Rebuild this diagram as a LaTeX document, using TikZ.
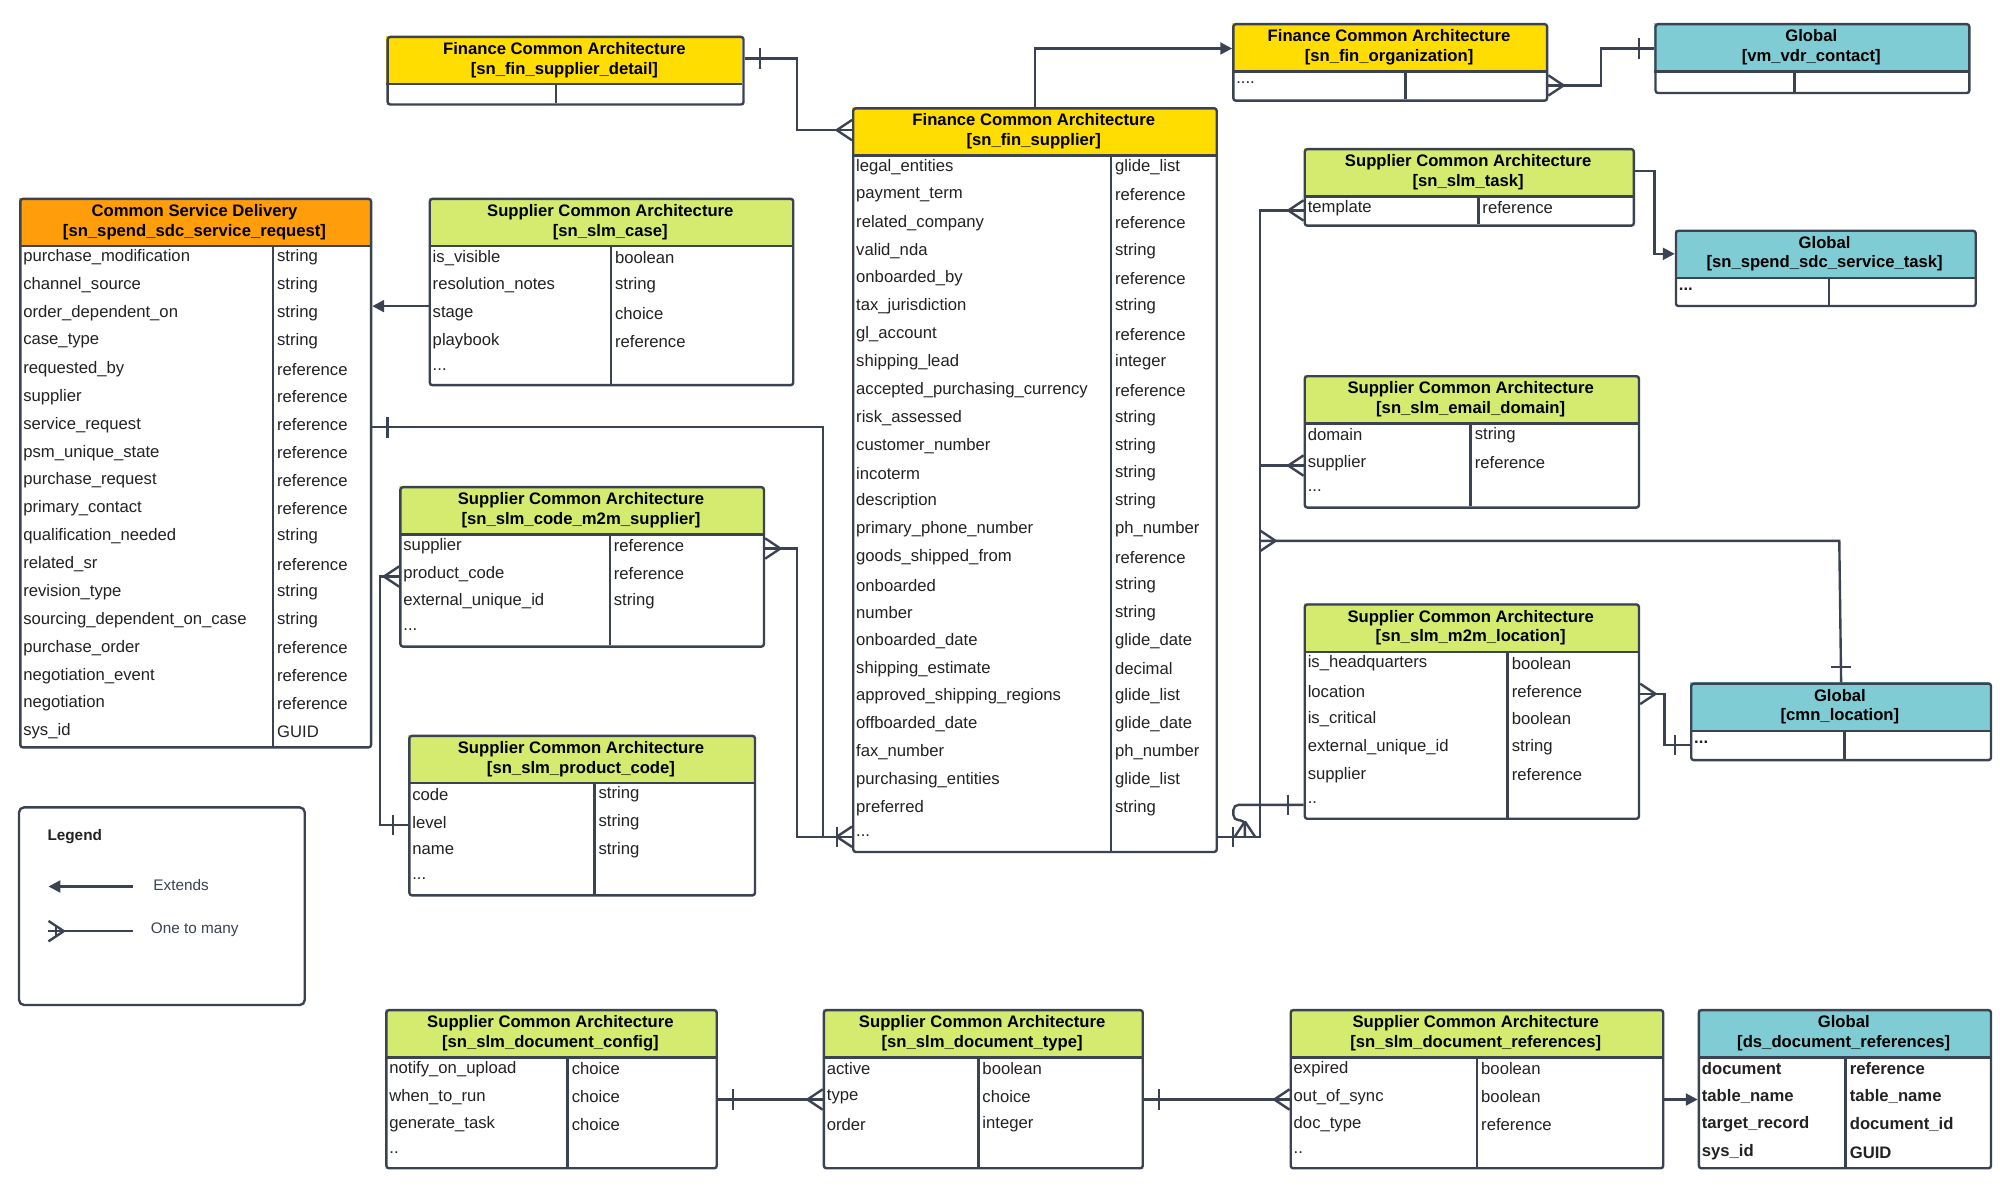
\documentclass[tikz,border=0pt]{standalone}
\usepackage{fontspec}
\setmainfont{Liberation Sans}
\usetikzlibrary{calc,arrows.meta}
\definecolor{lnc}{HTML}{3B4252}
\definecolor{cy}{HTML}{FFDD00}
\definecolor{co}{HTML}{FF9E0A}
\definecolor{cg}{HTML}{D5EB6F}
\definecolor{ct}{HTML}{7FCCD5}
\definecolor{txc}{HTML}{222222}
\newcommand\tdots{...}
\newcommand\tdd{..}
\newcommand\tdddd{....}
\tikzset{
 ln/.style={draw=lnc,line width=1.4pt},
 tri/.style={-{Triangle[length=7pt,width=7pt]}},
 tbl/.style={draw=lnc,line width=1.4pt,rounded corners=1.5pt,inner sep=0pt},
 ttl/.style={font=\bfseries\fontsize{9.8}{11.5}\selectfont,align=center,text=black,inner sep=0pt},
 cell/.style={font=\fontsize{9.8}{11}\selectfont,text=txc,anchor=west,inner sep=0pt},
}
\newcommand\ertab[9]{%
 \fill[#7] (#2,#3) rectangle (#4,{#3+38});
 \node[tbl,minimum width={(#4-#2)*0.75pt},minimum height={(#5-#3)*0.75pt},anchor=north west] (#1) at (#2,#3) {};
 \draw[ln] (#2,{#3+38}) -- (#4,{#3+38});
 \draw[ln] (#6,{#3+38}) -- (#6,#5);
 \node[ttl] (#1-t) at ({(#2+#4)/2},{#3+19}) {#8};
 \foreach \a/\b [count=\i] in {#9} {
  \node[cell] at ({#2+3},{#3+47+(\i-1)*21.85}) {\a};
  \node[cell] at ({#6+3},{#3+47+(\i-1)*21.85}) {\b};
 }
}
\newcommand\onebar[3]{\draw[ln] ($(#1)+({12*#2+8*#3},{12*#3+8*#2})$) -- ($(#1)+({12*#2-8*#3},{12*#3-8*#2})$);}
\newcommand\crow[3]{\draw[ln] ($(#1)+({12*#2},{12*#3})$) -- ($(#1)+({8*#3},{8*#2})$)
  ($(#1)+({12*#2},{12*#3})$) -- ($(#1)+({-8*#3},{-8*#2})$);}
\begin{document}
\catcode`\_=12
\begin{tikzpicture}[x=0.75pt,y=-0.75pt]
\useasboundingbox[fill=white] (0,0) rectangle (1568,933);
% tables
\ertab{detail}{303}{28}{582}{81}{436}{cy}{Finance Common Architecture\\{}[sn_fin_supplier_detail]}{{}/{}}
\ertab{fsup}{668}{84}{953}{667}{871}{cy}{Finance Common Architecture\\{}[sn_fin_supplier]}{legal_entities/glide_list,payment_term/reference,related_company/reference,valid_nda/string,onboarded_by/reference,tax_jurisdiction/string,gl_account/reference,shipping_lead/integer,accepted_purchasing_currency/reference,risk_assessed/string,customer_number/string,incoterm/string,description/string,primary_phone_number/ph_number,goods_shipped_from/reference,onboarded/string,number/string,onboarded_date/glide_date,shipping_estimate/decimal,approved_shipping_regions/glide_list,offboarded_date/glide_date,fax_number/ph_number,purchasing_entities/glide_list,preferred/string,\tdots/{}}
\ertab{forg}{966}{18}{1212}{78}{1102}{cy}{Finance Common Architecture\\{}[sn_fin_organization]}{\tdddd/{}}
\ertab{vdr}{1297}{18}{1543}{72}{1407}{ct}{Global\\{}[vm_vdr_contact]}{{}/{}}
\ertab{sreq}{15}{155}{290}{585}{214}{co}{Common Service Delivery\\{}[sn_spend_sdc_service_request]}{purchase_modification/string,channel_source/string,order_dependent_on/string,case_type/string,requested_by/reference,supplier/reference,service_request/reference,psm_unique_state/reference,purchase_request/reference,primary_contact/reference,qualification_needed/string,related_sr/reference,revision_type/string,sourcing_dependent_on_case/string,purchase_order/reference,negotiation_event/reference,negotiation/reference,sys_id/GUID}
\ertab{case}{336}{155}{621}{301}{479}{cg}{Supplier Common Architecture\\{}[sn_slm_case]}{is_visible/boolean,resolution_notes/string,stage/choice,playbook/reference,\tdots/{}}
\ertab{m2ms}{313}{381}{598}{506}{478}{cg}{Supplier Common Architecture\\{}[sn_slm_code_m2m_supplier]}{supplier/reference,product_code/reference,external_unique_id/string,\tdots/{}}
\ertab{pcode}{320}{576}{591}{701}{466}{cg}{Supplier Common Architecture\\{}[sn_slm_product_code]}{code/string,level/string,name/string,\tdots/{}}
\ertab{task}{1022}{116}{1280}{176}{1159}{cg}{Supplier Common Architecture\\{}[sn_slm_task]}{template/reference}
\ertab{stask}{1313}{180}{1548}{239}{1434}{ct}{Global\\{}[sn_spend_sdc_service_task]}{{\textbf{\tdots}}/{}}
\ertab{email}{1022}{294}{1284}{397}{1153}{cg}{Supplier Common Architecture\\{}[sn_slm_email_domain]}{domain/string,supplier/reference,\tdots/{}}
\ertab{m2ml}{1022}{473}{1284}{641}{1182}{cg}{Supplier Common Architecture\\{}[sn_slm_m2m_location]}{is_headquarters/boolean,location/reference,is_critical/boolean,external_unique_id/string,supplier/reference,\tdd/{}}
\ertab{cloc}{1325}{535}{1560}{595}{1446}{ct}{Global\\{}[cmn_location]}{{\textbf{\tdots}}/{}}
\ertab{dconf}{302}{791}{561}{915}{445}{cg}{Supplier Common Architecture\\{}[sn_slm_document_config]}{notify_on_upload/choice,when_to_run/choice,generate_task/choice,\tdd/{}}
\ertab{dtype}{645}{791}{895}{915}{767}{cg}{Supplier Common Architecture\\{}[sn_slm_document_type]}{active/boolean,type/choice,order/integer}
\ertab{dref}{1011}{791}{1303}{915}{1158}{cg}{Supplier Common Architecture\\{}[sn_slm_document_references]}{expired/boolean,out_of_sync/boolean,doc_type/reference,\tdd/{}}
\ertab{dsref}{1331}{791}{1560}{915}{1447}{ct}{Global\\{}[ds_document_references]}{{\textbf{document}}/{\textbf{reference}},{\textbf{table_name}}/{\textbf{table_name}},{\textbf{target_record}}/{\textbf{document_id}},{\textbf{sys_id}}/{\textbf{GUID}}}
% legend
\node[draw=lnc,line width=1.4pt,rounded corners=3pt,minimum width={224*0.75pt},minimum height={155*0.75pt},anchor=north west,inner sep=0pt] (legend) at (14,632) {};
\node[cell,font=\bfseries\fontsize{9}{10}\selectfont] (lgt) at (37,656) {Legend};
\coordinate (l1a) at (104,695); \coordinate (l1b) at (38,695);
\draw[ln,tri] (l1a) -- (l1b);
\node[cell,text=lnc,font=\fontsize{9}{10}\selectfont] (l1t) at (120,694) {Extends};
\coordinate (l2a) at (104,730); \coordinate (l2b) at (38,730);
\draw[ln] (l2a) -- (l2b);
\crow{l2b}{1}{0}\onebar{l2b}{0.5}{0}
\node[cell,text=lnc,font=\fontsize{9}{10}\selectfont] (l2t) at (118,729) {One to many};
% connectors
\coordinate (a1) at (detail.east |- 0,46); \coordinate (a2) at (fsup.west |- 0,102);
\draw[ln] (a1) -- (625,46) -- (625,102) -- (a2); \onebar{a1}{1}{0}\crow{a2}{-1}{0}
\coordinate (b1) at (forg.west |- 0,38);
\draw[ln,tri] (fsup.north) |- (b1);
\coordinate (c1) at (forg.east |- 0,67); \coordinate (c2) at (vdr.west |- 0,38);
\draw[ln] (c1) -- (1255,67) -- (1255,38) -- (c2); \crow{c1}{1}{0}\onebar{c2}{-1}{0}
\coordinate (d1) at (case.west |- 0,240); \coordinate (d2) at (sreq.east |- 0,240);
\draw[ln,tri] (d1) -- (d2);
\coordinate (e1) at (sreq.east |- 0,335); \coordinate (e2) at (fsup.west |- 0,656);
\draw[ln] (e1) -- (645,335) -- (645,656) -- (e2); \onebar{e1}{1}{0}\crow{e2}{-1}{0}\onebar{e2}{-1}{0}
\coordinate (f1) at (m2ms.east |- 0,430);
\draw[ln] (f1) -- (625,430) -- (625,656) -- (e2); \crow{f1}{1}{0}
\coordinate (g1) at (pcode.west |- 0,647); \coordinate (g2) at (m2ms.west |- 0,452);
\draw[ln] (g1) -- (298,647) -- (298,452) -- (g2); \onebar{g1}{-1}{0}\crow{g2}{-1}{0}
\coordinate (h1) at (fsup.east |- 0,656); \coordinate (h2) at (task.west |- 0,165);
\coordinate (h3) at (email.west |- 0,365); \coordinate (h4) at (988,424);
\draw[ln] (h1) -- (988,656) -- (988,165) -- (h2); \onebar{h1}{1}{0}\crow{h2}{-1}{0}
\draw[ln] (988,365) -- (h3); \crow{h3}{-1}{0}
\draw[ln] (h4) -- (1442,424) -- (cloc.north); \crow{h4}{1}{0}\onebar{cloc.north}{0}{-1}
\coordinate (k1) at (m2ml.west |- 0,631); \coordinate (k2) at (976,656);
\draw[ln,rounded corners=3pt] (k1) -- (967,631) -- (967,643) -- (976,643) -- (k2); \onebar{k1}{-1}{0}\crow{k2}{0}{-1}
\coordinate (i1) at (task.east |- 0,134); \coordinate (i2) at (stask.west |- 0,199);
\draw[ln,tri] (i1) -- (1297,134) -- (1297,199) -- (i2);
\coordinate (j1) at (m2ml.east |- 0,544); \coordinate (j2) at (cloc.west |- 0,584);
\draw[ln] (j1) -- (1305,544) -- (1305,584) -- (j2); \crow{j1}{1}{0}\onebar{j2}{-1}{0}
\coordinate (m1) at (dconf.east |- 0,862); \coordinate (m2) at (dtype.west |- 0,862);
\draw[ln] (m1) -- (m2); \onebar{m1}{1}{0}\crow{m2}{-1}{0}
\coordinate (n1) at (dtype.east |- 0,862); \coordinate (n2) at (dref.west |- 0,862);
\draw[ln] (n1) -- (n2); \onebar{n1}{1}{0}\crow{n2}{-1}{0}
\coordinate (o1) at (dref.east |- 0,862); \coordinate (o2) at (dsref.west |- 0,862);
\draw[ln,tri] (o1) -- (o2);
\end{tikzpicture}
\end{document}
